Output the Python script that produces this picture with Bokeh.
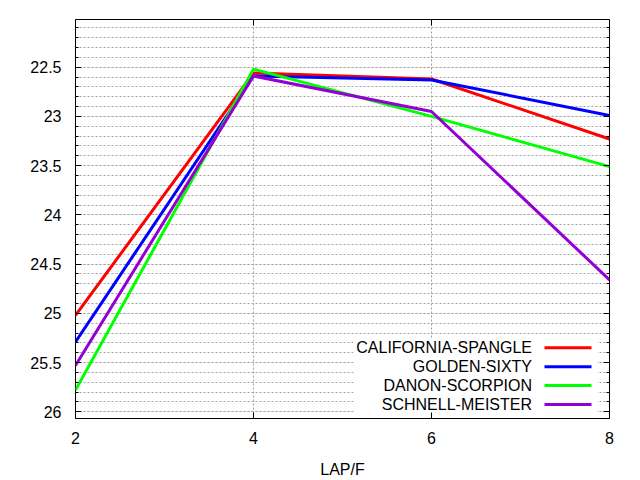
from bokeh.plotting import figure
from bokeh.models import (Range1d, FixedTicker, LinearAxis, CustomJSTickFormatter,
                          Label, BoxAnnotation)
from bokeh.embed import file_html
from bokeh.resources import INLINE

# ---- data ----
laps = [2, 4, 6, 8]
series_names = ["CALIFORNIA-SPANGLE", "GOLDEN-SIXTY", "DANON-SCORPION", "SCHNELL-MEISTER"]
california_spangle = [25.02, 22.56, 22.62, 23.23]
golden_sixty = [25.29, 22.59, 22.63, 22.99]
danon_scorpion = [25.78, 22.52, 23.00, 23.51]
schnell_meister = [25.53, 22.59, 22.95, 24.66]
series_values = [california_spangle, golden_sixty, danon_scorpion, schnell_meister]
series_colors = ["#ff0000", "#0000ff", "#00ff00", "#9400d3"]
x_ticks = [2, 4, 6, 8]
y_ticks = [22.5, 23.0, 23.5, 24.0, 24.5, 25.0, 25.5, 26.0]
y_minor = [round(22.1 + 0.1 * i, 1) for i in range(40)]
x_label = "LAP/F"

FONT = "Liberation Sans"
FS = "16px"
W, H = 640, 480
FL, FB = 75, 419  # frame left / bottom on the page (for legend placement)

p = figure(width=W, height=H, output_backend="svg", toolbar_location=None,
           x_range=Range1d(2, 8), y_range=Range1d(26.068, 22.016),
           min_border_left=75, min_border_right=31, min_border_top=19, min_border_bottom=61)
p.background_fill_color = "white"
p.border_fill_color = "white"
p.outline_line_color = "black"
p.outline_line_width = 1
p.outline_line_alpha = 1

# axes
xa = p.xaxis[0]
ya = p.yaxis[0]
xa.ticker = FixedTicker(ticks=x_ticks)
ya.ticker = FixedTicker(ticks=y_ticks, minor_ticks=y_minor)
for ax in (xa, ya):
    ax.axis_line_color = None
    ax.major_tick_in = 6
    ax.major_tick_out = 0
    ax.minor_tick_in = 3
    ax.minor_tick_out = 0
    ax.major_tick_line_color = "black"
    ax.minor_tick_line_color = "black"
    ax.major_label_text_font = FONT
    ax.major_label_text_font_size = FS
    ax.major_label_text_color = "black"
xa.minor_tick_line_color = None
xa.major_label_standoff = 13
ya.major_label_standoff = 14
xa.axis_label = x_label
xa.axis_label_text_font = FONT
xa.axis_label_text_font_size = FS
xa.axis_label_text_font_style = "normal"
xa.axis_label_text_color = "black"
xa.axis_label_standoff = 14

# mirrored ticks
blank = CustomJSTickFormatter(code="return '';")
ra = LinearAxis(ticker=FixedTicker(ticks=y_ticks, minor_ticks=y_minor), formatter=blank,
                major_tick_in=6, major_tick_out=0, minor_tick_in=3, minor_tick_out=0,
                axis_line_color=None, major_label_standoff=0, major_label_text_font_size="1px")
p.add_layout(ra, "right")
ta = LinearAxis(ticker=FixedTicker(ticks=x_ticks), formatter=blank,
                major_tick_in=6, major_tick_out=0, minor_tick_line_color=None,
                axis_line_color=None, major_label_standoff=0, major_label_text_font_size="1px")
p.add_layout(ta, "above")

# grids
p.xgrid.ticker = FixedTicker(ticks=[4, 6])
p.xgrid.grid_line_color = "#a0a0a0"
p.xgrid.grid_line_dash = "2 2"
p.ygrid.ticker = FixedTicker(ticks=y_ticks, minor_ticks=y_minor)
p.ygrid.grid_line_color = "#a0a0a0"
p.ygrid.grid_line_dash = "2 2"
p.ygrid.minor_grid_line_color = "#a0a0a0"
p.ygrid.minor_grid_line_dash = "2 2"

# series
for vals, col in zip(series_values, series_colors):
    p.line(laps, vals, line_color=col, line_width=3)

# legend (gnuplot style: label right-aligned, sample line on right)
# screen units here are relative to the frame: x from its left, y from its bottom
def sx(px):
    return px - FL

def sy(py):
    return FB - py

p.add_layout(BoxAnnotation(left=sx(353), right=sx(597), top=sy(338.5), bottom=sy(416),
                           left_units="screen", right_units="screen",
                           top_units="screen", bottom_units="screen",
                           fill_color="white", fill_alpha=1, line_color=None, level="underlay"))
row_y = [348.3, 367.3, 386.0, 405.0]
for name, col, ry in zip(series_names, series_colors, row_y):
    p.add_layout(Label(x=sx(531.5), y=sy(ry), x_units="screen", y_units="screen", text=name,
                       text_align="right", text_baseline="middle",
                       text_font=FONT, text_font_size=FS, text_color="black"))
    p.add_layout(BoxAnnotation(left=sx(544), right=sx(591), top=sy(ry) + 1.5, bottom=sy(ry) - 1.5,
                               left_units="screen", right_units="screen",
                               top_units="screen", bottom_units="screen",
                               fill_color=col, fill_alpha=1, line_color=None))

open("out.html", "w").write(file_html(p, INLINE))
